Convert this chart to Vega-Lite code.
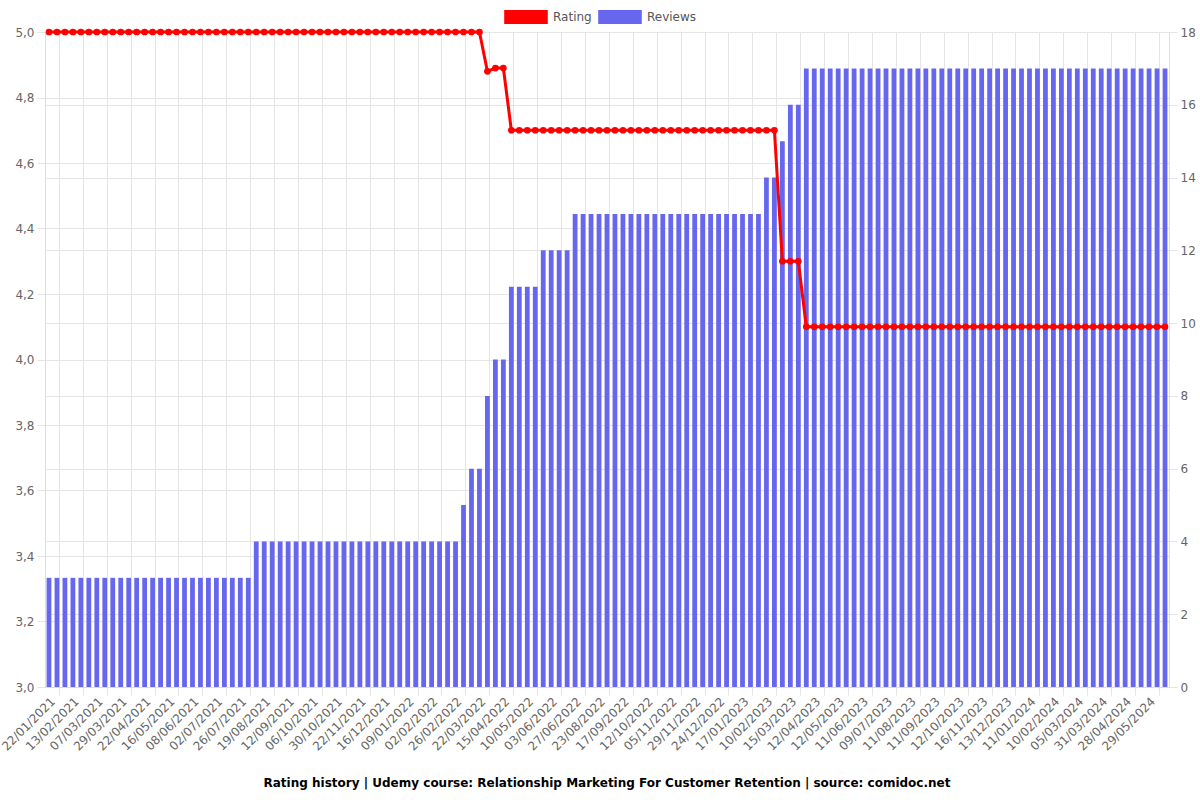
{
  "$schema": "https://vega.github.io/schema/vega-lite/v6.json",
  "width": 1124,
  "height": 655,
  "autosize": {"type": "none"},
  "padding": {"left": 45, "top": 32, "right": 31, "bottom": 113},
  "background": "white",
  "config": {
    "view": {"stroke": null},
    "font": "DejaVu Sans",
    "axis": {"labelFont": "DejaVu Sans", "labelFontSize": 12, "labelColor": "#666666", "gridColor": "#e5e5e5", "tickColor": "#e5e5e5", "domainColor": "#dddddd", "title": null}
  },
  "title": {
    "text": "Rating history | Udemy course: Relationship Marketing For Customer Retention | source: comidoc.net",
    "orient": "bottom",
    "anchor": "middle",
    "fontSize": 12,
    "fontWeight": "bold",
    "color": "#000000",
    "font": "DejaVu Sans",
    "offset": 26
  },
  "data": {"values": [
    {"d": "22/01/2021", "reviews": 3, "rating": 5.0},
    {"d": "29/01/2021", "reviews": 3, "rating": 5.0},
    {"d": "06/02/2021", "reviews": 3, "rating": 5.0},
    {"d": "13/02/2021", "reviews": 3, "rating": 5.0},
    {"d": "20/02/2021", "reviews": 3, "rating": 5.0},
    {"d": "28/02/2021", "reviews": 3, "rating": 5.0},
    {"d": "07/03/2021", "reviews": 3, "rating": 5.0},
    {"d": "14/03/2021", "reviews": 3, "rating": 5.0},
    {"d": "22/03/2021", "reviews": 3, "rating": 5.0},
    {"d": "29/03/2021", "reviews": 3, "rating": 5.0},
    {"d": "06/04/2021", "reviews": 3, "rating": 5.0},
    {"d": "14/04/2021", "reviews": 3, "rating": 5.0},
    {"d": "22/04/2021", "reviews": 3, "rating": 5.0},
    {"d": "30/04/2021", "reviews": 3, "rating": 5.0},
    {"d": "08/05/2021", "reviews": 3, "rating": 5.0},
    {"d": "16/05/2021", "reviews": 3, "rating": 5.0},
    {"d": "24/05/2021", "reviews": 3, "rating": 5.0},
    {"d": "31/05/2021", "reviews": 3, "rating": 5.0},
    {"d": "08/06/2021", "reviews": 3, "rating": 5.0},
    {"d": "16/06/2021", "reviews": 3, "rating": 5.0},
    {"d": "24/06/2021", "reviews": 3, "rating": 5.0},
    {"d": "02/07/2021", "reviews": 3, "rating": 5.0},
    {"d": "10/07/2021", "reviews": 3, "rating": 5.0},
    {"d": "18/07/2021", "reviews": 3, "rating": 5.0},
    {"d": "26/07/2021", "reviews": 3, "rating": 5.0},
    {"d": "03/08/2021", "reviews": 3, "rating": 5.0},
    {"d": "11/08/2021", "reviews": 4, "rating": 5.0},
    {"d": "19/08/2021", "reviews": 4, "rating": 5.0},
    {"d": "27/08/2021", "reviews": 4, "rating": 5.0},
    {"d": "04/09/2021", "reviews": 4, "rating": 5.0},
    {"d": "12/09/2021", "reviews": 4, "rating": 5.0},
    {"d": "20/09/2021", "reviews": 4, "rating": 5.0},
    {"d": "28/09/2021", "reviews": 4, "rating": 5.0},
    {"d": "06/10/2021", "reviews": 4, "rating": 5.0},
    {"d": "14/10/2021", "reviews": 4, "rating": 5.0},
    {"d": "22/10/2021", "reviews": 4, "rating": 5.0},
    {"d": "30/10/2021", "reviews": 4, "rating": 5.0},
    {"d": "07/11/2021", "reviews": 4, "rating": 5.0},
    {"d": "15/11/2021", "reviews": 4, "rating": 5.0},
    {"d": "22/11/2021", "reviews": 4, "rating": 5.0},
    {"d": "30/11/2021", "reviews": 4, "rating": 5.0},
    {"d": "08/12/2021", "reviews": 4, "rating": 5.0},
    {"d": "16/12/2021", "reviews": 4, "rating": 5.0},
    {"d": "24/12/2021", "reviews": 4, "rating": 5.0},
    {"d": "01/01/2022", "reviews": 4, "rating": 5.0},
    {"d": "09/01/2022", "reviews": 4, "rating": 5.0},
    {"d": "17/01/2022", "reviews": 4, "rating": 5.0},
    {"d": "25/01/2022", "reviews": 4, "rating": 5.0},
    {"d": "02/02/2022", "reviews": 4, "rating": 5.0},
    {"d": "10/02/2022", "reviews": 4, "rating": 5.0},
    {"d": "18/02/2022", "reviews": 4, "rating": 5.0},
    {"d": "26/02/2022", "reviews": 4, "rating": 5.0},
    {"d": "06/03/2022", "reviews": 5, "rating": 5.0},
    {"d": "14/03/2022", "reviews": 6, "rating": 5.0},
    {"d": "22/03/2022", "reviews": 6, "rating": 5.0},
    {"d": "30/03/2022", "reviews": 8, "rating": 4.88},
    {"d": "07/04/2022", "reviews": 9, "rating": 4.89},
    {"d": "15/04/2022", "reviews": 9, "rating": 4.89},
    {"d": "23/04/2022", "reviews": 11, "rating": 4.7},
    {"d": "02/05/2022", "reviews": 11, "rating": 4.7},
    {"d": "10/05/2022", "reviews": 11, "rating": 4.7},
    {"d": "18/05/2022", "reviews": 11, "rating": 4.7},
    {"d": "26/05/2022", "reviews": 12, "rating": 4.7},
    {"d": "03/06/2022", "reviews": 12, "rating": 4.7},
    {"d": "11/06/2022", "reviews": 12, "rating": 4.7},
    {"d": "19/06/2022", "reviews": 12, "rating": 4.7},
    {"d": "27/06/2022", "reviews": 13, "rating": 4.7},
    {"d": "16/07/2022", "reviews": 13, "rating": 4.7},
    {"d": "04/08/2022", "reviews": 13, "rating": 4.7},
    {"d": "23/08/2022", "reviews": 13, "rating": 4.7},
    {"d": "31/08/2022", "reviews": 13, "rating": 4.7},
    {"d": "09/09/2022", "reviews": 13, "rating": 4.7},
    {"d": "17/09/2022", "reviews": 13, "rating": 4.7},
    {"d": "25/09/2022", "reviews": 13, "rating": 4.7},
    {"d": "04/10/2022", "reviews": 13, "rating": 4.7},
    {"d": "12/10/2022", "reviews": 13, "rating": 4.7},
    {"d": "20/10/2022", "reviews": 13, "rating": 4.7},
    {"d": "28/10/2022", "reviews": 13, "rating": 4.7},
    {"d": "05/11/2022", "reviews": 13, "rating": 4.7},
    {"d": "13/11/2022", "reviews": 13, "rating": 4.7},
    {"d": "21/11/2022", "reviews": 13, "rating": 4.7},
    {"d": "29/11/2022", "reviews": 13, "rating": 4.7},
    {"d": "07/12/2022", "reviews": 13, "rating": 4.7},
    {"d": "16/12/2022", "reviews": 13, "rating": 4.7},
    {"d": "24/12/2022", "reviews": 13, "rating": 4.7},
    {"d": "01/01/2023", "reviews": 13, "rating": 4.7},
    {"d": "09/01/2023", "reviews": 13, "rating": 4.7},
    {"d": "17/01/2023", "reviews": 13, "rating": 4.7},
    {"d": "25/01/2023", "reviews": 13, "rating": 4.7},
    {"d": "02/02/2023", "reviews": 13, "rating": 4.7},
    {"d": "10/02/2023", "reviews": 14, "rating": 4.7},
    {"d": "21/02/2023", "reviews": 14, "rating": 4.7},
    {"d": "04/03/2023", "reviews": 15, "rating": 4.3},
    {"d": "15/03/2023", "reviews": 16, "rating": 4.3},
    {"d": "24/03/2023", "reviews": 16, "rating": 4.3},
    {"d": "03/04/2023", "reviews": 17, "rating": 4.1},
    {"d": "12/04/2023", "reviews": 17, "rating": 4.1},
    {"d": "22/04/2023", "reviews": 17, "rating": 4.1},
    {"d": "02/05/2023", "reviews": 17, "rating": 4.1},
    {"d": "12/05/2023", "reviews": 17, "rating": 4.1},
    {"d": "22/05/2023", "reviews": 17, "rating": 4.1},
    {"d": "01/06/2023", "reviews": 17, "rating": 4.1},
    {"d": "11/06/2023", "reviews": 17, "rating": 4.1},
    {"d": "20/06/2023", "reviews": 17, "rating": 4.1},
    {"d": "30/06/2023", "reviews": 17, "rating": 4.1},
    {"d": "09/07/2023", "reviews": 17, "rating": 4.1},
    {"d": "20/07/2023", "reviews": 17, "rating": 4.1},
    {"d": "31/07/2023", "reviews": 17, "rating": 4.1},
    {"d": "11/08/2023", "reviews": 17, "rating": 4.1},
    {"d": "21/08/2023", "reviews": 17, "rating": 4.1},
    {"d": "31/08/2023", "reviews": 17, "rating": 4.1},
    {"d": "11/09/2023", "reviews": 17, "rating": 4.1},
    {"d": "21/09/2023", "reviews": 17, "rating": 4.1},
    {"d": "01/10/2023", "reviews": 17, "rating": 4.1},
    {"d": "12/10/2023", "reviews": 17, "rating": 4.1},
    {"d": "24/10/2023", "reviews": 17, "rating": 4.1},
    {"d": "04/11/2023", "reviews": 17, "rating": 4.1},
    {"d": "16/11/2023", "reviews": 17, "rating": 4.1},
    {"d": "25/11/2023", "reviews": 17, "rating": 4.1},
    {"d": "04/12/2023", "reviews": 17, "rating": 4.1},
    {"d": "13/12/2023", "reviews": 17, "rating": 4.1},
    {"d": "23/12/2023", "reviews": 17, "rating": 4.1},
    {"d": "02/01/2024", "reviews": 17, "rating": 4.1},
    {"d": "11/01/2024", "reviews": 17, "rating": 4.1},
    {"d": "21/01/2024", "reviews": 17, "rating": 4.1},
    {"d": "31/01/2024", "reviews": 17, "rating": 4.1},
    {"d": "10/02/2024", "reviews": 17, "rating": 4.1},
    {"d": "18/02/2024", "reviews": 17, "rating": 4.1},
    {"d": "26/02/2024", "reviews": 17, "rating": 4.1},
    {"d": "05/03/2024", "reviews": 17, "rating": 4.1},
    {"d": "14/03/2024", "reviews": 17, "rating": 4.1},
    {"d": "22/03/2024", "reviews": 17, "rating": 4.1},
    {"d": "31/03/2024", "reviews": 17, "rating": 4.1},
    {"d": "09/04/2024", "reviews": 17, "rating": 4.1},
    {"d": "18/04/2024", "reviews": 17, "rating": 4.1},
    {"d": "28/04/2024", "reviews": 17, "rating": 4.1},
    {"d": "08/05/2024", "reviews": 17, "rating": 4.1},
    {"d": "18/05/2024", "reviews": 17, "rating": 4.1},
    {"d": "29/05/2024", "reviews": 17, "rating": 4.1},
    {"d": "08/06/2024", "reviews": 17, "rating": 4.1},
    {"d": "18/06/2024", "reviews": 17, "rating": 4.1}
  ]},
  "layer": [
    {
      "mark": {"type": "bar", "color": "#6666ee"},
      "encoding": {
        "x": {
          "field": "d", "type": "ordinal", "sort": null,
          "scale": {"paddingInner": 0.4, "paddingOuter": 0.2},
          "axis": {
            "orient": "bottom",
            "values": ["22/01/2021","13/02/2021","07/03/2021","29/03/2021","22/04/2021","16/05/2021","08/06/2021","02/07/2021","26/07/2021","19/08/2021","12/09/2021","06/10/2021","30/10/2021","22/11/2021","16/12/2021","09/01/2022","02/02/2022","26/02/2022","22/03/2022","15/04/2022","10/05/2022","03/06/2022","27/06/2022","23/08/2022","17/09/2022","12/10/2022","05/11/2022","29/11/2022","24/12/2022","17/01/2023","10/02/2023","15/03/2023","12/04/2023","12/05/2023","11/06/2023","09/07/2023","11/08/2023","11/09/2023","12/10/2023","16/11/2023","13/12/2023","11/01/2024","10/02/2024","05/03/2024","31/03/2024","28/04/2024","29/05/2024"],
            "labelAngle": -45,
            "labelAlign": "right",
            "labelBaseline": "middle",
            "labelOverlap": false,
            "labelBound": false,
            "labelPadding": 12,
            "labelOffset": 4,
            "ticks": false,
            "grid": false,
            "domain": true,
            "title": null
          }
        },
        "y": {
          "field": "reviews", "type": "quantitative",
          "scale": {"domain": [0, 18], "nice": false},
          "axis": {"orient": "right", "values": [0,2,4,6,8,10,12,14,16,18], "tickSize": 8, "labelPadding": 3, "grid": true, "domain": true, "title": null}
        },
        "color": {
          "datum": "Reviews",
          "scale": {"domain": ["Rating", "Reviews"], "range": ["#ff0000", "#6666ee"]},
          "legend": {
            "orient": "none",
            "legendX": 459,
            "legendY": -37,
            "direction": "horizontal",
            "title": null,
            "symbolType": "M-1,-0.32L1,-0.32L1,0.32L-1,0.32Z",
            "symbolSize": 1900,
            "symbolStrokeWidth": 0,
            "symbolOpacity": 1,
            "labelFontSize": 12,
            "labelFont": "DejaVu Sans",
            "labelColor": "#555555",
            "labelOffset": 5,
            "columnPadding": 6,
            "padding": 0
          }
        }
      }
    },
    {
      "mark": {"type": "line", "color": "#ff0000", "strokeWidth": 3, "point": {"filled": true, "size": 45, "color": "#ff0000"}},
      "encoding": {
        "x": {
          "field": "d", "type": "ordinal", "sort": null,
          "axis": {
            "orient": "bottom",
            "values": ["29/01/2021","20/02/2021","14/03/2021","06/04/2021","30/04/2021","24/05/2021","16/06/2021","10/07/2021","03/08/2021","27/08/2021","20/09/2021","14/10/2021","07/11/2021","30/11/2021","24/12/2021","17/01/2022","10/02/2022","06/03/2022","30/03/2022","23/04/2022","18/05/2022","11/06/2022","16/07/2022","31/08/2022","25/09/2022","20/10/2022","13/11/2022","07/12/2022","01/01/2023","25/01/2023","21/02/2023","24/03/2023","22/04/2023","22/05/2023","20/06/2023","20/07/2023","21/08/2023","21/09/2023","24/10/2023","25/11/2023","23/12/2023","21/01/2024","18/02/2024","14/03/2024","09/04/2024","08/05/2024","08/06/2024"],
            "bandPosition": 1,
            "labels": false,
            "ticks": true,
            "tickSize": 8,
            "grid": true,
            "domain": false,
            "title": null
          }
        },
        "y": {
          "field": "rating", "type": "quantitative",
          "scale": {"domain": [3, 5], "nice": false, "zero": false},
          "axis": {
            "orient": "left",
            "values": [3.0,3.2,3.4,3.6,3.8,4.0,4.2,4.4,4.6,4.8,5.0],
            "labelExpr": "replace(format(datum.value, '.1f'), '.', ',')",
            "tickSize": 8,
            "labelPadding": 3,
            "grid": true,
            "domain": true,
            "title": null
          }
        }
      }
    }
  ],
  "resolve": {"scale": {"y": "independent"}, "axis": {"x": "independent", "y": "independent"}}
}
